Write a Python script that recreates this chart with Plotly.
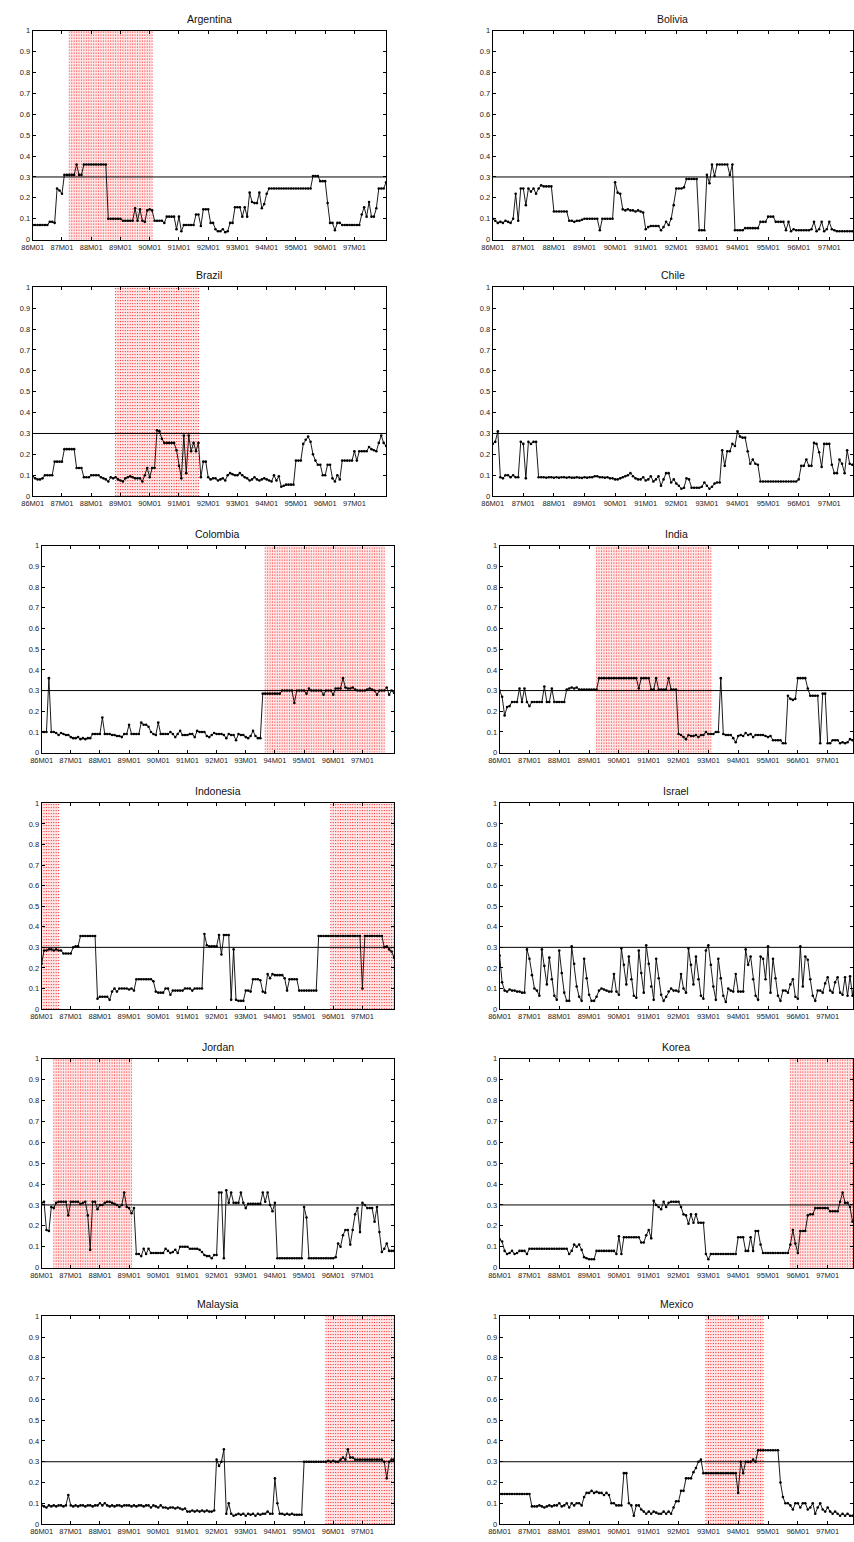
import plotly.graph_objects as go

W, H = 854, 1542

COUNTRIES = ["Argentina", "Bolivia", "Brazil", "Chile", "Colombia", "India",
             "Indonesia", "Israel", "Jordan", "Korea", "Malaysia", "Mexico"]

TICK_MONTHS = [0, 12, 24, 36, 48, 60, 72, 84, 96, 108, 120, 132]
TICK_LABELS = ["86M01", "87M01", "88M01", "89M01", "90M01", "91M01",
               "92M01", "93M01", "94M01", "95M01", "96M01", "97M01"]
Y_TICKS = [0, 0.1, 0.2, 0.3, 0.4, 0.5, 0.6, 0.7, 0.8, 0.9, 1]
Y_LABELS = ["0", "0.1", "0.2", "0.3", "0.4", "0.5", "0.6", "0.7", "0.8", "0.9", "1"]
THRESHOLD = 0.3

argentina = [
    .07, .07, .07, .07, .07, .07, .07, .085, .085, .08,
    .245, .235, .22, .31, .31, .31, .31, .31, .36, .31,
    .31, .36, .36, .36, .36, .36, .36, .36, .36, .36,
    .36, .10, .10, .10, .10, .10, .10, .09, .09, .09,
    .09, .09, .15, .09, .145, .09, .085, .14, .145, .14,
    .09, .09, .09, .09, .08, .11, .11, .11, .11, .05,
    .11, .04, .07, .07, .07, .07, .07, .12, .12, .065,
    .145, .145, .145, .08, .08, .05, .04, .04, .05, .035,
    .04, .08, .08, .155, .155, .155, .11, .155, .11, .225,
    .18, .175, .175, .225, .15, .17, .22, .245, .245, .245,
    .245, .245, .245, .245, .245, .245, .245, .245, .245, .245,
    .245, .245, .245, .245, .245, .305, .305, .305, .28, .28,
    .28, .175, .08, .08, .045, .08, .08, .07, .07, .07,
    .07, .07, .07, .07, .07, .12, .155, .11, .18, .11,
    .11, .15, .245, .245, .245, .275]

bolivia = [
    .10, .09, .08, .085, .08, .09, .085, .08, .10, .22,
    .09, .245, .245, .165, .245, .23, .245, .22, .245, .26,
    .255, .255, .255, .255, .135, .135, .135, .135, .135, .135,
    .09, .09, .085, .09, .09, .095, .10, .10, .10, .10,
    .10, .10, .045, .10, .10, .10, .10, .10, .275, .225,
    .22, .145, .14, .145, .14, .14, .135, .14, .135, .13,
    .05, .06, .065, .065, .065, .065, .045, .06, .085, .07,
    .10, .165, .245, .245, .245, .25, .29, .29, .29, .29,
    .29, .045, .045, .045, .31, .27, .36, .305, .36, .36,
    .36, .36, .36, .31, .36, .045, .045, .045, .045, .055,
    .055, .055, .055, .055, .055, .085, .085, .085, .11, .11,
    .11, .085, .085, .085, .085, .045, .085, .04, .05, .045,
    .045, .045, .045, .045, .045, .05, .085, .04, .05, .085,
    .04, .05, .085, .05, .045, .04, .04, .04, .04, .04,
    .04, .04, .04, .04, .04, .04]

brazil = [
    .095, .085, .08, .08, .085, .1, .1, .1, .1, .165,
    .165, .165, .165, .225, .225, .225, .225, .225, .135, .135,
    .135, .09, .09, .09, .1, .1, .1, .1, .09, .085,
    .08, .07, .09, .085, .09, .08, .075, .07, .085, .09,
    .095, .09, .085, .085, .085, .07, .1, .135, .09, .135,
    .135, .315, .31, .275, .255, .255, .255, .255, .255, .22,
    .145, .085, .29, .11, .29, .215, .255, .215, .255, .09,
    .165, .165, .09, .08, .085, .085, .075, .08, .085, .075,
    .1, .11, .105, .1, .1, .11, .1, .09, .085, .075,
    .08, .09, .08, .075, .08, .085, .08, .075, .07, .1,
    .075, .095, .045, .05, .055, .055, .055, .055, .17, .17,
    .17, .25, .27, .285, .26, .2, .17, .15, .15, .1,
    .1, .15, .15, .085, .07, .1, .08, .17, .17, .17,
    .17, .17, .215, .17, .215, .215, .215, .215, .235, .225,
    .22, .215, .255, .29, .255, .24]

chile = [
    .25, .26, .31, .09, .085, .1, .1, .09, .1, .09,
    .09, .26, .25, .085, .26, .25, .26, .26, .09, .09,
    .09, .088, .09, .09, .088, .09, .088, .09, .09, .088,
    .09, .088, .088, .09, .088, .087, .09, .088, .09, .09,
    .095, .095, .09, .09, .088, .09, .085, .085, .08, .08,
    .085, .09, .095, .1, .11, .095, .085, .08, .08, .09,
    .075, .08, .095, .07, .08, .095, .05, .08, .11, .11,
    .065, .08, .06, .05, .035, .04, .085, .08, .04, .04,
    .04, .04, .045, .065, .05, .035, .045, .06, .065, .065,
    .22, .145, .215, .215, .25, .24, .31, .285, .28, .28,
    .215, .155, .175, .155, .15, .07, .07, .07, .07, .07,
    .07, .07, .07, .07, .07, .07, .07, .07, .07, .07,
    .08, .145, .145, .175, .145, .145, .255, .25, .21, .14,
    .25, .25, .25, .15, .11, .11, .175, .155, .11, .22,
    .155, .15, .15, .15, .15, .15]

colombia = [
    .1, .1, .1, .36, .1, .1, .095, .085, .095, .09,
    .085, .085, .075, .07, .07, .075, .065, .07, .065, .07,
    .07, .09, .09, .09, .09, .17, .09, .09, .09, .085,
    .085, .08, .08, .075, .09, .09, .135, .09, .09, .09,
    .09, .145, .135, .135, .125, .1, .09, .085, .145, .09,
    .09, .09, .09, .1, .09, .075, .09, .105, .085, .085,
    .085, .09, .09, .075, .105, .1, .1, .1, .08, .075,
    .085, .095, .09, .09, .09, .085, .07, .09, .085, .085,
    .06, .09, .085, .085, .075, .07, .08, .105, .08, .07,
    .07, .285, .285, .285, .285, .285, .285, .285, .285, .3,
    .3, .3, .3, .3, .24, .3, .3, .3, .3, .285,
    .31, .3, .3, .3, .3, .3, .28, .3, .3, .3,
    .28, .31, .31, .31, .36, .315, .31, .31, .315, .305,
    .3, .3, .3, .3, .305, .31, .305, .3, .28, .3,
    .3, .3, .315, .28, .3, .29]

india = [
    .3, .27, .18, .22, .225, .245, .245, .245, .31, .245,
    .31, .245, .225, .245, .245, .245, .245, .245, .32, .245,
    .245, .31, .245, .245, .245, .245, .245, .305, .31, .315,
    .31, .315, .305, .305, .305, .305, .305, .305, .305, .305,
    .36, .36, .36, .36, .36, .36, .36, .36, .36, .36,
    .36, .36, .36, .36, .36, .36, .31, .36, .36, .36,
    .36, .305, .305, .36, .305, .305, .305, .305, .36, .305,
    .305, .305, .09, .085, .075, .065, .085, .08, .08, .085,
    .075, .085, .085, .1, .09, .09, .09, .1, .1, .36,
    .09, .085, .085, .085, .07, .05, .08, .085, .08, .095,
    .085, .09, .075, .085, .085, .085, .085, .08, .075, .08,
    .06, .06, .06, .06, .045, .045, .275, .26, .255, .26,
    .36, .36, .36, .36, .31, .275, .275, .275, .275, .045,
    .285, .285, .045, .045, .06, .06, .06, .045, .05, .045,
    .05, .065, .06, .06, .06, .06]

indonesia = [
    .22, .285, .285, .29, .29, .285, .29, .285, .285, .27,
    .27, .27, .27, .3, .305, .305, .355, .355, .355, .355,
    .355, .355, .355, .05, .06, .06, .06, .06, .045, .085,
    .1, .085, .1, .1, .1, .1, .095, .1, .09, .145,
    .145, .145, .145, .145, .145, .145, .135, .085, .08, .08,
    .08, .1, .1, .07, .09, .09, .09, .09, .09, .1,
    .1, .1, .09, .1, .1, .1, .1, .365, .31, .305,
    .305, .305, .305, .36, .265, .36, .36, .36, .045, .29,
    .045, .04, .04, .04, .09, .09, .085, .145, .145, .145,
    .14, .085, .08, .17, .15, .17, .165, .165, .165, .165,
    .15, .09, .145, .145, .145, .145, .09, .09, .09, .09,
    .09, .09, .09, .09, .355, .355, .355, .355, .355, .355,
    .355, .355, .355, .355, .355, .355, .355, .355, .355, .355,
    .355, .355, .1, .355, .355, .355, .355, .355, .355, .355,
    .355, .3, .305, .29, .28, .25]

israel = [
    .26, .13, .09, .085, .095, .09, .09, .085, .085, .08,
    .08, .29, .245, .165, .1, .09, .065, .29, .21, .12,
    .25, .145, .065, .045, .285, .175, .08, .04, .04, .305,
    .22, .11, .06, .04, .245, .15, .07, .04, .04, .06,
    .09, .1, .095, .09, .085, .085, .17, .085, .07, .295,
    .215, .12, .255, .145, .065, .055, .285, .175, .08, .31,
    .22, .11, .045, .245, .15, .07, .04, .06, .085, .1,
    .09, .09, .085, .17, .1, .08, .295, .215, .12, .255,
    .145, .065, .05, .285, .31, .215, .11, .045, .245, .15,
    .065, .035, .1, .09, .085, .17, .085, .085, .085, .29,
    .215, .255, .145, .065, .045, .255, .245, .145, .305, .08,
    .245, .15, .065, .04, .09, .09, .08, .12, .145, .06,
    .05, .305, .11, .255, .24, .145, .065, .04, .09, .09,
    .08, .125, .155, .09, .08, .13, .155, .08, .07, .155,
    .065, .16, .065, .16, .065, .1]

jordan = [
    .31, .315, .18, .175, .29, .285, .31, .315, .315, .315,
    .315, .25, .315, .315, .315, .315, .305, .31, .315, .25,
    .085, .315, .315, .28, .3, .3, .31, .315, .315, .31,
    .305, .3, .29, .3, .36, .29, .285, .26, .285, .065,
    .065, .055, .09, .065, .09, .07, .07, .07, .07, .07,
    .07, .09, .08, .07, .075, .085, .07, .1, .1, .1,
    .1, .09, .09, .09, .09, .085, .075, .06, .055, .055,
    .045, .06, .06, .36, .36, .045, .37, .31, .36, .31,
    .31, .31, .36, .31, .285, .305, .305, .305, .305, .305,
    .305, .36, .315, .36, .3, .27, .31, .045, .045, .045,
    .045, .045, .045, .045, .045, .045, .045, .045, .29, .24,
    .045, .045, .045, .045, .045, .045, .045, .045, .045, .045,
    .045, .05, .115, .1, .155, .18, .18, .11, .18, .255,
    .285, .17, .31, .3, .285, .285, .285, .22, .29, .17,
    .075, .09, .115, .08, .08, .08]

korea = [
    .135, .125, .08, .065, .07, .08, .065, .07, .08, .08,
    .08, .065, .09, .09, .09, .09, .09, .09, .09, .09,
    .09, .09, .09, .09, .09, .09, .09, .09, .065, .08,
    .11, .1, .11, .085, .05, .045, .04, .04, .04, .08,
    .08, .08, .08, .08, .08, .08, .08, .065, .15, .065,
    .145, .145, .145, .145, .145, .145, .145, .12, .12, .155,
    .18, .14, .32, .3, .29, .28, .315, .29, .31, .315,
    .315, .315, .315, .29, .255, .25, .21, .255, .215, .255,
    .215, .215, .215, .065, .04, .065, .065, .065, .065, .065,
    .065, .065, .065, .065, .065, .065, .145, .145, .145, .08,
    .08, .145, .08, .175, .175, .11, .07, .07, .07, .07,
    .07, .07, .07, .07, .07, .07, .07, .11, .18, .115,
    .07, .175, .175, .175, .25, .255, .255, .285, .285, .285,
    .285, .285, .285, .27, .27, .27, .27, .315, .36, .31,
    .31, .29, .22, .22, .22, .22]

malaysia = [
    .09, .085, .08, .09, .085, .09, .085, .09, .09, .085,
    .09, .14, .09, .085, .09, .085, .09, .09, .085, .09,
    .09, .085, .09, .09, .1, .09, .1, .09, .085, .09,
    .085, .09, .09, .085, .09, .09, .09, .085, .09, .085,
    .09, .09, .085, .09, .09, .08, .09, .085, .08, .09,
    .08, .08, .075, .08, .08, .075, .08, .075, .07, .075,
    .06, .06, .065, .06, .065, .06, .065, .06, .065, .06,
    .06, .065, .31, .28, .3, .36, .05, .1, .05, .04,
    .045, .05, .045, .05, .04, .05, .045, .05, .04, .05,
    .045, .05, .05, .06, .05, .05, .22, .1, .05, .05,
    .045, .05, .045, .05, .045, .045, .045, .045, .3, .3,
    .3, .3, .3, .3, .3, .3, .3, .3, .305, .3,
    .305, .3, .3, .31, .32, .31, .36, .32, .32, .31,
    .31, .31, .31, .31, .31, .31, .31, .31, .31, .31,
    .31, .3, .22, .3, .31, .31]

mexico = [
    .145, .145, .145, .145, .145, .145, .145, .145, .145, .145,
    .145, .145, .145, .085, .085, .085, .09, .085, .08, .085,
    .09, .085, .09, .09, .1, .085, .09, .1, .08, .1,
    .09, .1, .1, .09, .13, .15, .15, .16, .15, .155,
    .15, .15, .14, .15, .14, .1, .1, .09, .09, .09,
    .245, .245, .1, .09, .04, .09, .09, .07, .06, .05,
    .06, .05, .06, .055, .05, .05, .06, .05, .06, .05,
    .08, .11, .11, .16, .16, .22, .22, .22, .25, .27,
    .3, .31, .245, .245, .245, .245, .245, .245, .245, .245,
    .245, .245, .245, .245, .245, .245, .15, .3, .245, .3,
    .3, .3, .31, .3, .355, .355, .355, .355, .355, .355,
    .355, .355, .355, .2, .13, .1, .1, .09, .07, .1,
    .1, .08, .1, .1, .07, .08, .1, .05, .08, .1,
    .07, .06, .08, .06, .05, .06, .05, .04, .05, .04,
    .05, .04, .04, .04, .04, .04]

SERIES = {
    "Argentina": argentina, "Bolivia": bolivia, "Brazil": brazil, "Chile": chile,
    "Colombia": colombia, "India": india, "Indonesia": indonesia, "Israel": israel,
    "Jordan": jordan, "Korea": korea, "Malaysia": malaysia, "Mexico": mexico,
}

# crisis windows (first month index, last month index; 0 = 86M01)
CRISES = {
    "Argentina": [(15, 49)], "Bolivia": [], "Brazil": [(34, 68)], "Chile": [],
    "Colombia": [(92, 141)], "India": [(39, 85)], "Indonesia": [(0, 7), (119, 145)],
    "Israel": [], "Jordan": [(5, 37)], "Korea": [(117, 145)],
    "Malaysia": [(117, 145)], "Mexico": [(83, 106)],
}

# ---------- layout geometry (pixels) ----------
ROW_Y = [(27, 237), (285, 495), (545, 753), (804, 1011), (1061, 1271), (1320, 1529)]


def col_geom(row, col):
    if row < 2:
        return (22, 380, 145.0) if col == 0 else (488, 853, 141.3)
    return (31, 388, 145.0) if col == 0 else (495, 853, 142.2)


FONT = "Liberation Sans, Arial, Helvetica, sans-serif"

fig = go.Figure()
layout = dict(width=W, height=H, margin=dict(l=0, r=0, t=0, b=0),
              paper_bgcolor="white", plot_bgcolor="white", showlegend=False,
              shapes=[], annotations=[])

for idx, name in enumerate(COUNTRIES):
    row, col = divmod(idx, 2)
    n = idx + 1
    xa = "x" if n == 1 else f"x{n}"
    ya = "y" if n == 1 else f"y{n}"
    x0, x1, xmax = col_geom(row, col)
    yt, yb = ROW_Y[row]

    # crisis shading: pale pink band + dotted red vertical line at every crisis month
    cx, cy = [], []
    for a, b in CRISES[name]:
        layout["shapes"].append(dict(type="rect", xref=xa, yref=f"{ya} domain",
                                     x0=a, x1=b, y0=0, y1=1, layer="below",
                                     fillcolor="rgba(255,0,0,0.10)", line=dict(width=0)))
        for m in range(a, b + 1):
            cx += [m, m, None]
            cy += [0, 1, None]
    if cx:
        fig.add_trace(go.Scatter(x=cx, y=cy, mode="lines", xaxis=xa, yaxis=ya,
                                 line=dict(color="rgba(255,0,0,0.85)", width=1, dash="1px,2px"),
                                 hoverinfo="skip"))

    vals = SERIES[name]
    months = list(range(len(vals)))
    fig.add_trace(go.Scatter(x=months, y=vals, mode="lines+markers", xaxis=xa, yaxis=ya,
                             line=dict(color="black", width=0.9),
                             marker=dict(size=2.6, color="black"),
                             hoverinfo="skip"))

    layout["shapes"].append(dict(type="line", xref=f"{xa} domain", yref=ya,
                                 x0=0, x1=1, y0=THRESHOLD, y1=THRESHOLD,
                                 line=dict(color="black", width=1)))

    axis_common = dict(showgrid=False, zeroline=False, showline=True, linecolor="black",
                       linewidth=1, mirror="allticks", ticks="inside", ticklen=3,
                       tickcolor="black", tickwidth=1,
                       tickfont=dict(family=FONT, size=7.5, color="#222"))
    layout["xaxis" if n == 1 else f"xaxis{n}"] = dict(
        domain=[x0 / W, x1 / W], range=[0, xmax], anchor=ya,
        tickmode="array", tickvals=TICK_MONTHS, ticktext=TICK_LABELS, **axis_common)
    layout["yaxis" if n == 1 else f"yaxis{n}"] = dict(
        domain=[1 - yb / H, 1 - yt / H], range=[0, 1], anchor=xa,
        tickmode="array", tickvals=Y_TICKS, ticktext=Y_LABELS, **axis_common)

    layout["annotations"].append(dict(
        text=name, xref="paper", yref="paper", x=(x0 + x1) / 2 / W, y=1 - yt / H,
        xanchor="center", yanchor="bottom", yshift=4, showarrow=False,
        font=dict(family=FONT, size=10.5, color="#111")))

fig.update_layout(**layout)
fig.write_html("out.html",
               config={"displayModeBar": False, "staticPlot": True},
               post_script="document.body.style.margin='0';document.body.style.padding='0';"
                           "document.documentElement.style.margin='0';")
